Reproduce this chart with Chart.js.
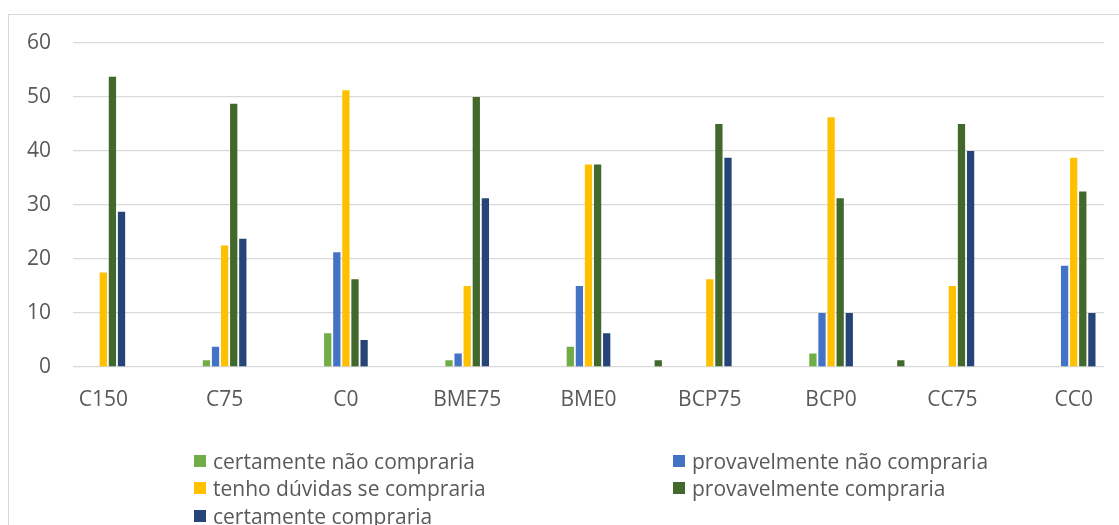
<!DOCTYPE html>
<html lang="pt">
<head>
<meta charset="utf-8">
<title>Intenção de compra por amostra</title>
<script src="https://cdn.jsdelivr.net/npm/chart.js@4/dist/chart.umd.min.js"></script>
<style>
  html, body { margin: 0; padding: 0; background: #fff; overflow: hidden; }
  #wrap { position: relative; width: 1119px; height: 525px; }
  #chart { position: absolute; left: 0; top: 0; }
  #legend {
    position: absolute; left: 194px; top: 447px;
    display: grid; grid-template-columns: 479px auto; grid-auto-rows: 27.5px;
    font-family: "Open Sans", sans-serif; font-size: 21px; color: #595959;
  }
  .item { display: flex; align-items: center; white-space: nowrap; }
  .sw { width: 12px; height: 12px; margin-right: 7px; flex: none; }
</style>
</head>
<body>
<div id="wrap">
  <canvas id="chart" width="1119" height="525"></canvas>
  <div id="legend"></div>
</div>
<script>
// Samples (blank entries are the unlabeled slots between groups)
const categories = ['C150', '', 'C75', '', 'C0', '', 'BME75', '', 'BME0', '', 'BCP75', '', 'BCP0', '', 'CC75', '', 'CC0'];

// Percentage of answers per purchase intention
const certamenteNaoCompraria   = [null, null, 1.25, null, 6.25, null, 1.25, null, 3.75, null, null, null, 2.5, null, null, null, null];
const provavelmenteNaoCompraria = [null, null, 3.75, null, 21.25, null, 2.5, null, 15, null, null, null, 10, null, null, null, 18.75];
const tenhoDuvidas             = [17.5, null, 22.5, null, 51.25, null, 15, null, 37.5, null, 16.25, null, 46.25, null, 15, null, 38.75];
const provavelmenteCompraria   = [53.75, null, 48.75, null, 16.25, null, 50, null, 37.5, 1.25, 45, null, 31.25, 1.25, 45, null, 32.5];
const certamenteCompraria      = [28.75, null, 23.75, null, 5, null, 31.25, null, 6.25, null, 38.75, null, 10, null, 40, null, 10];

const seriesNames = ['certamente não compraria', 'provavelmente não compraria', 'tenho dúvidas se compraria', 'provavelmente compraria', 'certamente compraria'];
const seriesData = [certamenteNaoCompraria, provavelmenteNaoCompraria, tenhoDuvidas, provavelmenteCompraria, certamenteCompraria];
const seriesColors = ['#70AD47', '#4472C4', '#FFC000', '#43682B', '#264478'];

const yTicks = [0, 10, 20, 30, 40, 50, 60];

const FONT = '"Open Sans", sans-serif';
const TEXT = '#595959';

// Light frame around the chart object
const frame = {
  id: 'frame',
  beforeDraw(chart) {
    const c = chart.ctx;
    c.save();
    c.fillStyle = '#fff';
    c.fillRect(0, 0, chart.width, chart.height);
    c.strokeStyle = '#d9d9d9';
    c.lineWidth = 1;
    c.strokeRect(8.5, 14.5, chart.width + 20, chart.height + 20);
    c.restore();
  }
};

const chart = new Chart(document.getElementById('chart'), {
  type: 'bar',
  data: {
    labels: categories,
    datasets: seriesNames.map((name, i) => ({
      label: name,
      data: seriesData[i],
      backgroundColor: seriesColors[i],
      borderWidth: 0,
      categoryPercentage: 0.75,
      barPercentage: 0.8
    }))
  },
  options: {
    responsive: false,
    animation: false,
    devicePixelRatio: 1,
    layout: { padding: { left: 0, top: 43, right: 15, bottom: 108 } },
    plugins: { legend: { display: false }, tooltip: { enabled: false } },
    scales: {
      x: {
        grid: { display: false, drawTicks: false },
        border: { display: false },
        ticks: {
          autoSkip: false, maxRotation: 0, padding: 20,
          color: TEXT, font: { family: FONT, size: 21 }
        },
        afterFit(scale) { scale.height = 50; }
      },
      y: {
        min: 0, max: 60,
        afterBuildTicks(scale) { scale.ticks = yTicks.map(v => ({ value: v })); },
        grid: { color: '#d9d9d9', lineWidth: 1.3, drawTicks: false },
        border: { display: false },
        ticks: {
          padding: 22, color: TEXT, font: { family: FONT, size: 21 }
        },
        afterFit(scale) { scale.width = 73; }
      }
    }
  },
  plugins: [frame]
});

// Two-column legend built from the chart's datasets
const legend = document.getElementById('legend');
chart.data.datasets.forEach(ds => {
  const item = document.createElement('div');
  item.className = 'item';
  const sw = document.createElement('span');
  sw.className = 'sw';
  sw.style.background = ds.backgroundColor;
  const label = document.createElement('span');
  label.textContent = ds.label;
  item.appendChild(sw);
  item.appendChild(label);
  legend.appendChild(item);
});
</script>
</body>
</html>
